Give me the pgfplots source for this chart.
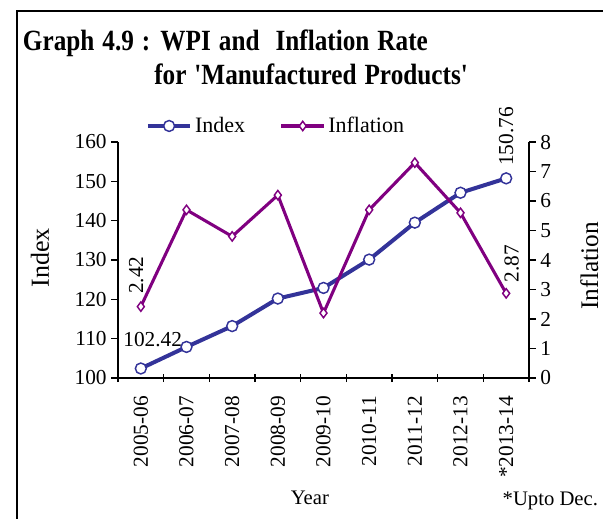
\documentclass[border=0pt]{standalone}
\usepackage{pgfplots}
\pgfplotsset{compat=1.18}
\usepackage{fontspec}
\setmainfont{Liberation Serif}
\newfontfamily\titlefont{Liberation Serif}[FakeStretch=0.86]
\definecolor{idxblue}{RGB}{51,51,153}
\definecolor{infpurple}{RGB}{128,0,128}
\pgfplotstableread{
x index infl
0 102.42 2.42
1 107.9 5.70
2 113.2 4.80
3 120.2 6.20
4 122.9 2.20
5 130.1 5.70
6 139.5 7.30
7 147.1 5.60
8 150.76 2.87
}\data
\begin{document}
\begin{tikzpicture}[x=1pt,y=1pt]
\useasboundingbox (-88.5,-105) rectangle (363.75,283.5);
\pgfplotsset{
  base/.style={
    at={(0,0)}, anchor=south west, scale only axis,
    width=308.25pt, height=177pt,
    xmin=-0.5, xmax=8.5,
    tick align=outside,
    major tick length=5pt,
    tick style={black, line width=0.9pt},
    axis line style={line width=1.2pt},
    tick label style={font=\fontsize{16}{19}\selectfont},
    /pgf/number format/assume math mode=true,
    clip=false,
  },
  idxstyle/.style={idxblue, line width=3pt, mark=*, mark size=4.1pt,
     mark options={fill=white, draw=idxblue, line width=1.1pt}},
  infstyle/.style={infpurple, line width=2.3pt, mark=diamond*, mark size=3.5pt,
     mark options={fill=white, draw=infpurple, line width=1.1pt}},
}
\begin{axis}[base,
  ymin=100, ymax=160, ytick={100,110,...,160},
  axis y line*=left, axis x line*=bottom,
  xtick={0,...,8},
  xticklabels={2005-06,2006-07,2007-08,2008-09,2009-10,2010-11,2011-12,2012-13,*2013-14},
  major x tick style={draw=none},
  minor xtick={-0.5,0.5,...,8.5},
  minor tick length=6pt,
  minor x tick style={yshift=3pt, black, line width=0.9pt},
  xticklabel shift=5pt,
  xticklabel style={rotate=90, anchor=east, font=\fontsize{16}{19}\selectfont},
  ylabel={Index},
  ylabel style={at={(axis description cs:-0.19,0.51)}, anchor=center, font=\fontsize{19.5}{22}\selectfont},
  xlabel={Year},
  xlabel style={at={(axis description cs:0.467,-0.538)}, anchor=base, font=\fontsize{15.5}{18}\selectfont},
]
\addplot[idxstyle] table[x=x, y=index] {\data};
\node[font=\fontsize{16}{18}\selectfont] at (axis cs:0.26,109.9) {102.42};
\node[rotate=90, font=\fontsize{16}{18}\selectfont] at (axis cs:8.0,161.4) {150.76};
\end{axis}
\begin{axis}[base,
  ymin=0, ymax=8, ytick={0,1,...,8},
  axis y line*=right, axis x line=none,
  ylabel={Inflation},
  ylabel style={at={(axis description cs:1.168,0.475)}, anchor=base, font=\fontsize{19}{22}\selectfont},
  legend style={at={(axis description cs:0.385,1.068)}, anchor=center, draw=none, fill=none,
    legend columns=2, font=\fontsize{16.5}{19}\selectfont,
    /tikz/every even column/.append style={column sep=24pt}},
  legend image code/.code={\draw[mark repeat=2, mark phase=2, #1] plot coordinates {(0pt,0pt) (16pt,0pt) (32pt,0pt)};},
]
\addlegendimage{idxstyle}
\addlegendentry{Index}
\addplot[infstyle] table[x=x, y=infl] {\data};
\addlegendentry{Inflation}
\node[rotate=90, font=\fontsize{16}{18}\selectfont] at (axis cs:-0.1,3.49) {2.42};
\node[rotate=90, font=\fontsize{16}{18}\selectfont] at (axis cs:8.12,3.88) {2.87};
\end{axis}
\draw[line width=1.5pt] (-75.4,-120) -- (-75.4,274.9) -- (380,274.9);
\node[anchor=base west, inner sep=0pt, font=\titlefont\fontsize{22}{26}\selectfont\bfseries] at (-71.5,245.25) {\spaceskip=6pt\relax Graph 4.9 : WPI and \ Inflation Rate};
\node[anchor=base west, inner sep=0pt, font=\titlefont\fontsize{22}{26}\selectfont\bfseries] at (27,219.75) {\spaceskip=6pt\relax for 'Manufactured Products'};
\node[anchor=base west, font=\fontsize{15.5}{18}\selectfont] at (285,-95.25) {*Upto Dec.};
\end{tikzpicture}
\end{document}
